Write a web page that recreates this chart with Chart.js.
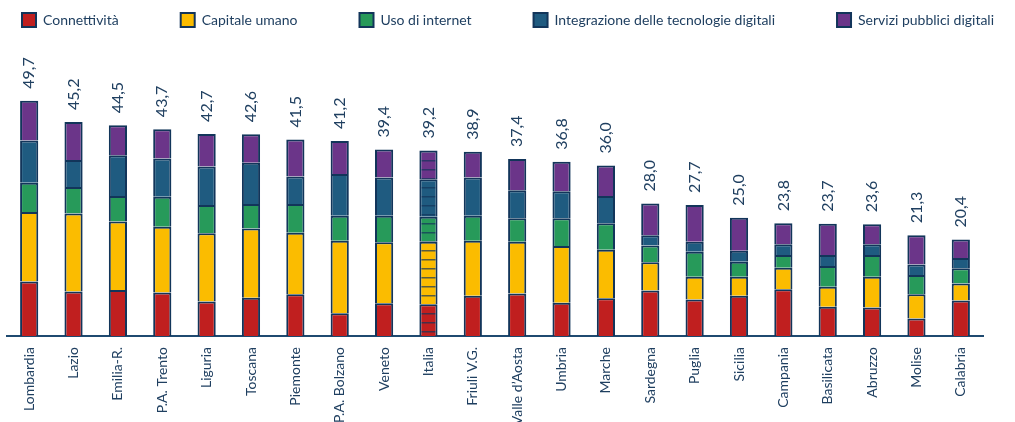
<!DOCTYPE html>
<html>
<head>
<meta charset="utf-8">
<script src="https://cdn.jsdelivr.net/npm/chart.js@4"></script>
<style>
  html, body { margin: 0; padding: 0; background: #fff; }
  #wrap { width: 1015px; height: 422px; }
</style>
</head>
<body>
<div id="wrap"><canvas id="myChart"></canvas></div>
<script>
// regions, sorted by total
const regions = ["Lombardia", "Lazio", "Emilia-R.", "P.A. Trento", "Liguria", "Toscana", "Piemonte",
  "P.A. Bolzano", "Veneto", "Italia", "Friuli V.G.", "Valle d\u2019Aosta", "Umbria", "Marche",
  "Sardegna", "Puglia", "Sicilia", "Campania", "Basilicata", "Abruzzo", "Molise", "Calabria"];

// the five dimensions
const connettivita = [11.5, 9.4, 9.7, 9.2, 7.3, 8.1, 8.8, 4.8, 6.9, 6.7, 8.5, 9.0, 7.0, 8.0, 9.6, 7.7, 8.5, 9.9, 6.2, 6.0, 3.7, 7.5];
const capitaleUmano = [14.7, 16.5, 14.5, 13.9, 14.4, 14.6, 13.0, 15.3, 12.9, 13.2, 11.6, 10.9, 12.0, 10.2, 6.0, 4.8, 4.0, 4.5, 4.2, 6.5, 5.1, 3.6];
const usoInternet = [6.2, 5.6, 5.4, 6.3, 6.0, 5.2, 6.1, 5.3, 5.6, 5.3, 5.3, 5.0, 5.9, 5.6, 3.5, 5.3, 3.2, 2.7, 4.4, 4.6, 4.1, 3.2];
const integrazione = [8.9, 5.7, 8.6, 8.1, 8.1, 8.7, 5.8, 8.8, 8.1, 7.9, 8.1, 5.9, 5.7, 5.8, 2.2, 2.1, 2.3, 2.3, 2.3, 2.3, 2.2, 2.2];
const serviziPubblici = [8.4, 8.0, 6.3, 6.2, 6.9, 6.0, 7.8, 7.0, 5.9, 6.1, 5.4, 6.6, 6.2, 6.4, 6.7, 7.8, 7.0, 4.4, 6.6, 4.2, 6.2, 3.9];

// labels above the bars
const totals = ["49,7", "45,2", "44,5", "43,7", "42,7", "42,6", "41,5", "41,2", "39,4", "39,2", "38,9",
  "37,4", "36,8", "36,0", "28,0", "27,7", "25,0", "23,8", "23,7", "23,6", "21,3", "20,4"];

const navy = "#12355a";
const textColor = "#1f3f60";
const fontName = "Lato";
const legendPad = 62;

// striped fill for the Italia bar
function stripes(color) {
  let c = document.createElement("canvas");
  c.width = 8;
  c.height = 9;
  let g = c.getContext("2d");
  g.fillStyle = color;
  g.fillRect(0, 0, 8, 9);
  g.fillStyle = "rgba(18,53,90,0.7)";
  g.fillRect(0, 7, 8, 1.5);
  return g.createPattern(c, "repeat");
}

function makeSet(label, data, color) {
  let pat = stripes(color);
  return {
    label: label,
    data: data,
    backgroundColor: function (ctx) {
      if (ctx.dataIndex !== undefined && regions[ctx.dataIndex] === "Italia") return pat;
      return color;
    },
    borderColor: navy,
    borderWidth: 2,
    borderSkipped: "start",
    barPercentage: 0.41,
    categoryPercentage: 1,
  };
}

// legend: one row, fixed height, first box at x=22 and row centred at y=20
const legendPlacer = {
  id: "legendPlacer",
  beforeInit(chart) {
    const fit = chart.legend.fit;
    chart.legend.fit = function () {
      const w = this.maxWidth;
      this.maxWidth = 3000;
      fit.call(this);
      this.maxWidth = w;
      this.width = w;
      this.height = 52;
    };
  },
  afterLayout(chart) {
    const lg = chart.legend;
    const L = lg.lineWidths[0];
    lg.top = 20 - legendPad - 7;
    lg.right = 3000;
    lg.left = 44 - legendPad + L - 3000;
  },
};

// total values above each bar, rotated
const totalLabels = {
  id: "totalLabels",
  afterDatasetsDraw(chart) {
    const ctx = chart.ctx;
    const meta = chart.getDatasetMeta(chart.data.datasets.length - 1);
    ctx.save();
    ctx.font = "16px " + fontName;
    ctx.fillStyle = textColor;
    ctx.textAlign = "left";
    ctx.textBaseline = "middle";
    meta.data.forEach(function (bar, i) {
      ctx.save();
      ctx.translate(bar.x, bar.y - 12);
      ctx.rotate(-Math.PI / 2);
      ctx.fillText(totals[i], 0, 0);
      ctx.restore();
    });
    ctx.restore();
  },
};

const config = {
  type: "bar",
  data: {
    labels: regions,
    datasets: [
      makeSet("Connettivit\u00e0", connettivita, "#c01f1f"),
      makeSet("Capitale umano", capitaleUmano, "#fbbc00"),
      makeSet("Uso di internet", usoInternet, "#279a5a"),
      makeSet("Integrazione delle tecnologie digitali", integrazione, "#1f5b80"),
      makeSet("Servizi pubblici digitali", serviziPubblici, "#6b3589"),
    ],
  },
  options: {
    responsive: false,
    animation: false,
    layout: { padding: { left: 7, right: 32, top: 0, bottom: 0 } },
    plugins: {
      legend: {
        position: "top",
        labels: {
          boxWidth: 14,
          boxHeight: 14,
          padding: legendPad,
          color: textColor,
          font: { family: fontName, size: 14 },
        },
      },
      tooltip: { enabled: false },
    },
    scales: {
      x: {
        stacked: true,
        grid: { display: false },
        border: { display: true, color: "#1f4a70", width: 2 },
        ticks: {
          autoSkip: false,
          minRotation: 90,
          maxRotation: 90,
          padding: 3,
          color: textColor,
          font: { family: fontName, size: 14 },
        },
        afterFit(scale) {
          scale.height = 86;
        },
      },
      y: {
        stacked: true,
        display: false,
        min: 0,
        max: 60,
      },
    },
  },
  plugins: [legendPlacer, totalLabels],
};

const canvas = document.getElementById("myChart");
canvas.width = 1015;
canvas.height = 422;
var digitalChart = new Chart(canvas, config);
</script>
</body>
</html>
